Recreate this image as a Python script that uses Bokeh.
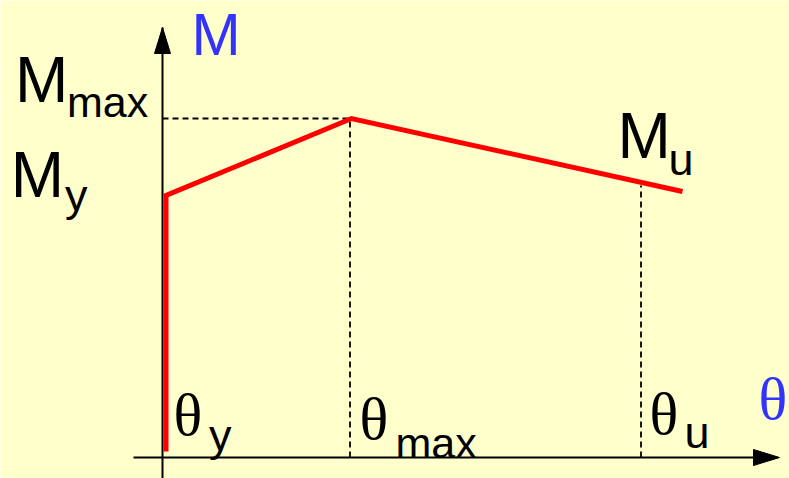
from bokeh.plotting import figure
from bokeh.models import Range1d
from bokeh.core.properties import value
from bokeh.embed import file_html
from bokeh.resources import INLINE

# ---- data (schematic moment-rotation curve, arbitrary units) ----
theta_curve = [0.035, 0.035, 1.89, 5.20]      # rotation points of the red curve
M_curve = [0.06, 2.62, 3.39, 2.66]            # moment points of the red curve
theta_y = 0.035
theta_max = 1.875
theta_u = 4.785
M_y = 2.62
M_max = 3.39
M_at_theta_u = 2.72

# axis extents
x_axis_start, x_axis_end = -0.29, 6.15
y_axis_start, y_axis_end = -0.25, 4.30

# label texts
label_texts = ["M", "θ", "M", "max", "M", "y", "M", "u", "θ", "y", "θ", "max", "θ", "u"]

BG = "#FFFFCC"
BLUE = "#3333FF"
SANS = "Liberation Sans"
SERIF = "Liberation Serif"

p = figure(width=789, height=478,
           x_range=Range1d(-1.62, 6.27), y_range=Range1d(-0.21, 4.57),
           output_backend="svg", toolbar_location=None, min_border=0)
p.axis.visible = False
p.grid.visible = False
p.outline_line_color = None
p.background_fill_color = BG
p.border_fill_color = BG

# axes
p.line([x_axis_start, x_axis_end], [0, 0], line_color="black", line_width=2)
p.line([0, 0], [y_axis_start, y_axis_end], line_color="black", line_width=2)
head_len, head_half = 0.26, 0.08
p.patch([x_axis_end + 0.02, x_axis_end + 0.02 - head_len, x_axis_end + 0.02 - head_len],
        [0, head_half, -head_half], fill_color="black", line_color="black")
p.patch([0, head_half, -head_half],
        [y_axis_end, y_axis_end - head_len, y_axis_end - head_len],
        fill_color="black", line_color="black")

# dashed guides
p.line([0, theta_max], [M_max, M_max], line_color="black", line_width=1.8, line_dash="6 4")
p.line([theta_max, theta_max], [0, M_max], line_color="black", line_width=1.8, line_dash="6 4")
p.line([theta_u, theta_u], [0, M_at_theta_u], line_color="black", line_width=1.8, line_dash="6 4")

# curve
p.line(theta_curve, M_curve, line_color="#FF0000", line_width=5, line_join="miter")

# text placed by its baseline; 1 data unit = 100 px on both axes here
DESC = {SANS: 0.212, SERIF: 0.216}

def lab(txt, x, baseline, size_px, font, color="black"):
    y = baseline - DESC[font] * size_px / 100.0
    p.text(x=[x], y=[y], text=[txt], text_font=value(font), text_font_size=f"{size_px}px",
           text_color=color, text_align="left", text_baseline="bottom")

MAIN, THETA, SUB, SUBM = 64, 60, 45, 43
t = label_texts
# axis titles
lab(t[0], 0.29, 4.025, 59, SANS, BLUE)
lab(t[1], 5.96, 0.38, THETA, SERIF, BLUE)
# M_max
lab(t[2], -1.474, M_max + 0.163, MAIN, SANS)
lab(t[3], -0.955, M_max + 0.013, SUBM, SANS)
# M_y
lab(t[4], -1.517, M_y - 0.023, MAIN, SANS)
lab(t[5], -0.975, M_y - 0.16, SUB, SANS)
# M_u
lab(t[6], 4.55, 2.99, MAIN, SANS)
lab(t[7], 5.06, 2.82, SUB, SANS)
# theta_y
lab(t[8], theta_y + 0.075, 0.225, THETA, SERIF)
lab(t[9], theta_y + 0.43, 0.06, SUB, SANS)
# theta_max
lab(t[10], theta_max + 0.095, 0.18, THETA, SERIF)
lab(t[11], theta_max + 0.455, 0.00, SUBM, SANS)
# theta_u
lab(t[12], theta_u + 0.085, 0.23, THETA, SERIF)
lab(t[13], theta_u + 0.435, 0.09, SUB, SANS)

open("out.html", "w").write(file_html(p, INLINE))
